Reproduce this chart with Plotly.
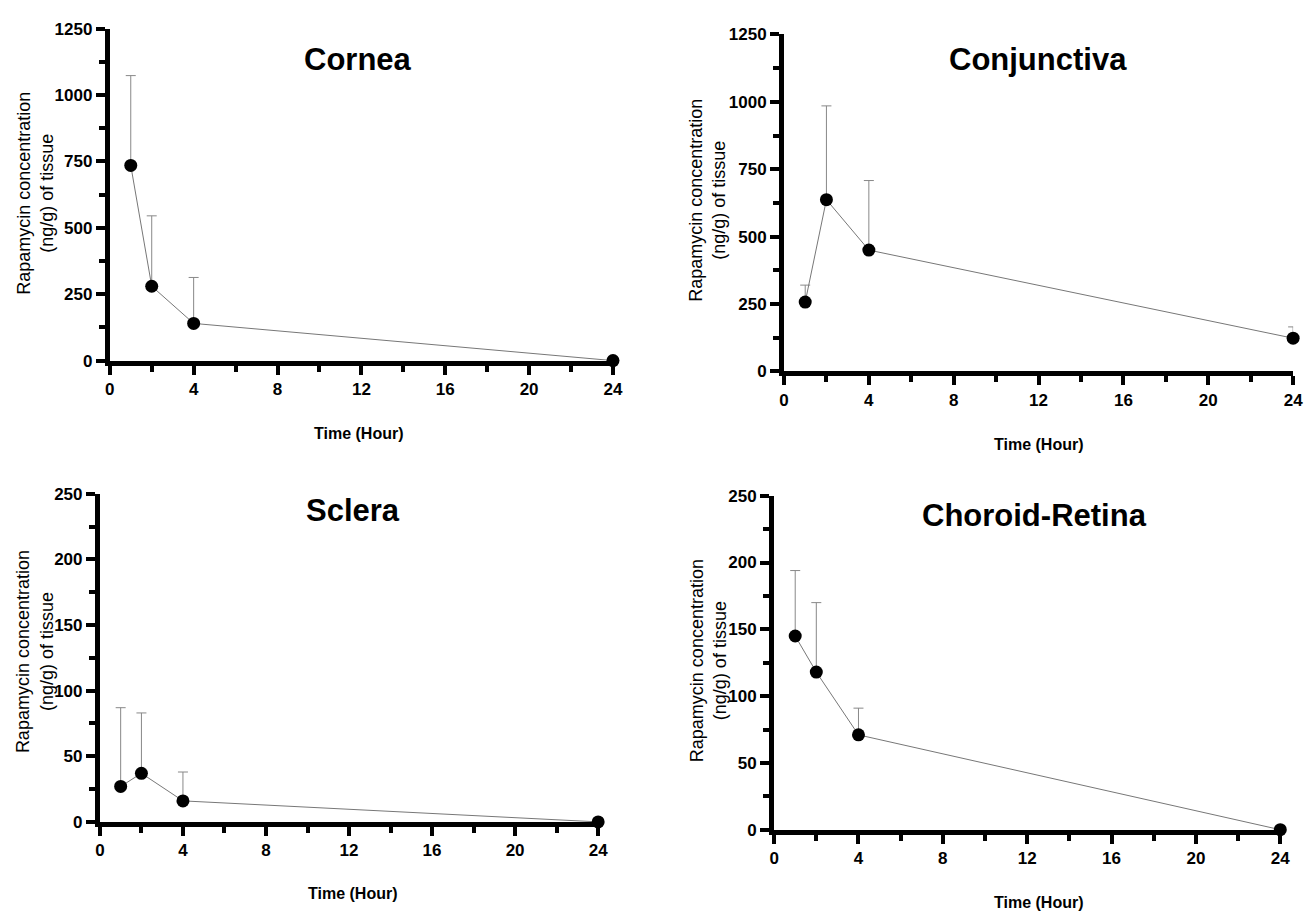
import plotly.graph_objects as go

W, H = 1314, 921

time_h = [1, 2, 4, 24]

cornea_mean = [735, 280, 140, 0]
cornea_err = [338, 265, 173, 0]

conj_mean = [257, 637, 450, 123]
conj_err = [63, 348, 258, 42]

sclera_mean = [27, 37, 16, 0]
sclera_err = [60, 46, 22, 0]

choroid_mean = [145, 118, 71, 0]
choroid_err = [49, 52, 20, 0]

panels = [
    dict(name="Cornea", y=cornea_mean, e=cornea_err, ymax=1250, dy=250,
         px=(106, 615), py=(359, 20), title=(357, 52), xt=(358, 433), yt=(30, 188)),
    dict(name="Conjunctiva", y=conj_mean, e=conj_err, ymax=1250, dy=250,
         px=(788, 1303), py=(370, 26), title=(1045, 52), xt=(1045, 445), yt=(711, 195)),
    dict(name="Sclera", y=sclera_mean, e=sclera_err, ymax=250, dy=50,
         px=(96, 600), py=(830, 495), title=(352, 512), xt=(352, 903), yt=(30, 656)),
    dict(name="Choroid-Retina", y=choroid_mean, e=choroid_err, ymax=250, dy=50,
         px=(778, 1290), py=(838, 497), title=(1041, 517), xt=(1045, 912), yt=(711, 665)),
]

FONT = "Liberation Sans, Arial, sans-serif"
fig = go.Figure()
annotations = []
layout = {}

for i, p in enumerate(panels, start=1):
    xa = "x" if i == 1 else f"x{i}"
    ya = "y" if i == 1 else f"y{i}"
    fig.add_trace(go.Scatter(
        x=time_h, y=p["y"], mode="lines+markers",
        xaxis=xa, yaxis=ya, cliponaxis=False, showlegend=False,
        line=dict(color="#777777", width=1),
        marker=dict(color="black", size=13),
        error_y=dict(type="data", symmetric=False, array=p["e"],
                     arrayminus=[0] * len(p["e"]), color="#888888",
                     thickness=1, width=5),
    ))
    xkey = "xaxis" if i == 1 else f"xaxis{i}"
    ykey = "yaxis" if i == 1 else f"yaxis{i}"
    layout[xkey] = dict(
        domain=[p["px"][0] / W, p["px"][1] / W], anchor=ya,
        range=[0, 24], tickvals=list(range(0, 25, 4)),
        showline=True, linewidth=5, linecolor="black",
        ticks="outside", ticklen=9, tickwidth=4, tickcolor="black",
        minor=dict(dtick=2, ticks="outside", ticklen=6, tickwidth=4, tickcolor="black"),
        showgrid=False, zeroline=False,
        tickfont=dict(family=FONT, size=17, color="black", weight="bold"),
    )
    layout[ykey] = dict(
        domain=[1 - p["py"][0] / H, 1 - p["py"][1] / H], anchor=xa,
        range=[0, p["ymax"]], dtick=p["dy"], tick0=0,
        showline=True, linewidth=5, linecolor="black",
        ticks="outside", ticklen=9, tickwidth=4, tickcolor="black",
        minor=dict(dtick=p["dy"] / 2, ticks="outside", ticklen=6, tickwidth=4, tickcolor="black"),
        showgrid=False, zeroline=False,
        tickfont=dict(family=FONT, size=17, color="black", weight="bold"),
    )
    annotations.append(dict(
        text=f"<b>{p['name']}</b>", x=p["title"][0] / W, y=1 - p["title"][1] / H,
        xref="paper", yref="paper", showarrow=False, xanchor="center", yanchor="middle",
        font=dict(family=FONT, size=31, color="black"),
    ))
    annotations.append(dict(
        text="<b>Time (Hour)</b>", x=p["xt"][0] / W, y=1 - p["xt"][1] / H,
        xref="paper", yref="paper", showarrow=False, xanchor="center", yanchor="middle",
        font=dict(family=FONT, size=16, color="black"),
    ))
    annotations.append(dict(
        text="Rapamycin concentration<br>(ng/g) of tissue",
        x=p["yt"][0] / W, y=1 - p["yt"][1] / H, textangle=-90,
        xref="paper", yref="paper", showarrow=False, xanchor="center", yanchor="middle",
        font=dict(family=FONT, size=18, color="black"),
    ))

fig.update_layout(
    width=W, height=H, margin=dict(l=0, r=0, t=0, b=0),
    paper_bgcolor="white", plot_bgcolor="white",
    annotations=annotations, **layout,
)

fig.write_html("out.html")
